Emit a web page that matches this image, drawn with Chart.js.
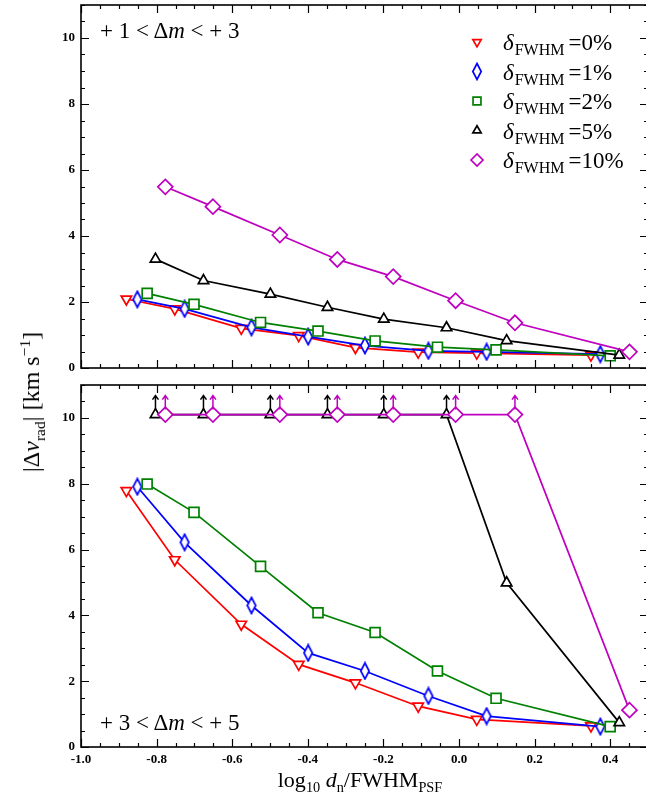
<!DOCTYPE html>
<html>
<head>
<meta charset="utf-8">
<script src="https://cdn.jsdelivr.net/npm/chart.js@4.4.0/dist/chart.umd.min.js"></script>
<style>
  html, body { margin: 0; padding: 0; background: #fff; }
  #wrap { position: relative; width: 646px; height: 798px; overflow: hidden; background: #fff; }
  #wrap canvas { position: absolute; left: 0; }
  .txt { position: absolute; font-family: "Liberation Serif", serif; color: #000; white-space: nowrap; line-height: 1; }
  .txt sub, .txt sup { font-size: 65%; line-height: 0; }
</style>
</head>
<body>
<div id="wrap">
  <canvas id="topPanel" width="650" height="380" style="top:0"></canvas>
  <canvas id="bottomPanel" width="650" height="418" style="top:380px"></canvas>

  <div class="txt" style="left:100px; top:19px; font-size:23px;">+ 1 &lt; Δ<i>m</i> &lt; + 3</div>
  <div class="txt" style="left:100px; top:711px; font-size:23px;">+ 3 &lt; Δ<i>m</i> &lt; + 5</div>
  <div class="txt" style="left:31px; top:402px; font-size:24px; transform: translate(-50%, -50%) rotate(-90deg);">|Δ<i>v</i><sub>rad</sub>| [km s<sup>−1</sup>]</div>
  <div class="txt" style="left:360px; top:780px; font-size:22px; transform: translate(-50%, -50%);">log<sub>10</sub> <i>d</i><sub>n</sub>/FWHM<sub>PSF</sub></div>
</div>

<script>
// axis ticks
const xTickValues = [-1.0, -0.8, -0.6, -0.4, -0.2, 0.0, 0.2, 0.4];
const yTickValues = [0, 2, 4, 6, 8, 10];

// legend
const legendPercents = ["0%", "1%", "2%", "5%", "10%"];

// log10 d_n / FWHM_PSF for each series
const xRed = [-0.880, -0.752, -0.576, -0.424, -0.274, -0.108, 0.047, 0.349];
const xBlue = [-0.851, -0.726, -0.549, -0.399, -0.249, -0.081, 0.073, 0.374];
const xGreen = [-0.825, -0.701, -0.525, -0.373, -0.222, -0.057, 0.098, 0.400];
const xBlack = [-0.803, -0.676, -0.499, -0.348, -0.199, -0.033, 0.126, 0.424];
const xPurple = [-0.777, -0.651, -0.474, -0.322, -0.174, -0.009, 0.148, 0.451];

// top panel: +1 < dm < +3
const topRed = [2.09, 1.79, 1.20, 0.98, 0.62, 0.48, 0.45, 0.39];
const topBlue = [2.08, 1.79, 1.23, 0.95, 0.68, 0.52, 0.49, 0.42];
const topGreen = [2.26, 1.93, 1.38, 1.12, 0.82, 0.63, 0.55, 0.37];
const topBlack = [3.30, 2.65, 2.24, 1.84, 1.48, 1.22, 0.83, 0.39];
const topPurple = [5.49, 4.89, 4.03, 3.29, 2.77, 2.04, 1.37, 0.49];

// bottom panel: +3 < dm < +5
const botRed = [7.79, 5.69, 3.73, 2.51, 1.95, 1.24, 0.84, 0.64];
const botBlue = [7.91, 6.22, 4.30, 2.86, 2.31, 1.55, 0.94, 0.62];
const botGreen = [7.99, 7.13, 5.49, 4.08, 3.48, 2.31, 1.48, 0.62];
const botBlack = [10.1, 10.1, 10.1, 10.1, 10.1, 10.1, 4.99, 0.74];
const botPurple = [10.1, 10.1, 10.1, 10.1, 10.1, 10.1, 10.1, 1.12];

// lower limits (drawn with an up arrow)
const botBlackLimit = [1, 1, 1, 1, 1, 1, 0, 0];
const botPurpleLimit = [1, 1, 1, 1, 1, 1, 1, 0];

// narrow diamond marker for the 1% series
function narrowDiamond(color) {
    const c = document.createElement("canvas");
    c.width = 12;
    c.height = 19;
    const g = c.getContext("2d");
    g.beginPath();
    g.moveTo(6, 1.5);
    g.lineTo(10.2, 9.5);
    g.lineTo(6, 17.5);
    g.lineTo(1.8, 9.5);
    g.closePath();
    g.fillStyle = "#fff";
    g.fill();
    g.strokeStyle = color;
    g.lineWidth = 1.7;
    g.stroke();
    return c;
}

const SERIES = [
    { color: "#ff0000", style: "triangle", radius: 6, rotation: 180, order: 5 },
    { color: "#0000ff", style: narrowDiamond("#0000ff"), radius: 7, rotation: 0, order: 4 },
    { color: "#008000", style: "rect", radius: 7, rotation: 0, order: 3 },
    { color: "#000000", style: "triangle", radius: 6, rotation: 0, order: 2 },
    { color: "#bf00bf", style: "rectRot", radius: 7.5, rotation: 0, order: 1 },
];

const xs = [xRed, xBlue, xGreen, xBlack, xPurple];

function makeDatasets(ys, limits) {
    return ys.map((vals, i) => ({
        label: legendPercents[i],
        data: vals.map((v, j) => ({ x: xs[i][j], y: v })),
        borderColor: SERIES[i].color,
        backgroundColor: "#fff",
        pointBackgroundColor: "#fff",
        pointBorderColor: SERIES[i].color,
        pointStyle: SERIES[i].style,
        pointRadius: SERIES[i].radius,
        pointRotation: SERIES[i].rotation,
        pointBorderWidth: 1.7,
        borderWidth: 1.7,
        order: SERIES[i].order,
        lowerLimit: limits ? limits[i] : null,
    }));
}

const framePlugin = {
    id: "frameTicks",
    afterDraw(chart) {
        const { ctx, chartArea: a, scales } = chart;
        const x = scales.x;
        const y = scales.y;
        ctx.save();
        ctx.strokeStyle = "#000";
        ctx.lineWidth = 1.2;
        ctx.beginPath();
        for (let i = 0; i <= 30; i++) {
            const v = -1 + i * 0.05;
            const px = Math.round(x.getPixelForValue(v)) + 0.5;
            const len = i % 4 === 0 ? 8 : 4;
            ctx.moveTo(px, a.bottom);
            ctx.lineTo(px, a.bottom - len);
            ctx.moveTo(px, a.top);
            ctx.lineTo(px, a.top + len);
        }
        for (let i = 0; i <= 22; i++) {
            const v = i * 0.5;
            const py = Math.round(y.getPixelForValue(v)) + 0.5;
            const len = i % 4 === 0 ? 8 : 4;
            ctx.moveTo(a.left, py);
            ctx.lineTo(a.left + len, py);
            ctx.moveTo(a.right, py);
            ctx.lineTo(a.right - len, py);
        }
        ctx.stroke();
        ctx.lineWidth = 1.6;
        ctx.strokeRect(a.left, a.top, a.right - a.left, a.bottom - a.top);
        ctx.restore();
    },
};

const limitPlugin = {
    id: "lowerLimits",
    afterDatasetsDraw(chart) {
        const ctx = chart.ctx;
        ctx.save();
        ctx.lineWidth = 1.5;
        chart.data.datasets.forEach((ds, di) => {
            if (!ds.lowerLimit) return;
            ctx.strokeStyle = ds.borderColor;
            chart.getDatasetMeta(di).data.forEach((pt, i) => {
                if (!ds.lowerLimit[i]) return;
                const tip = pt.y - 19;
                ctx.beginPath();
                ctx.moveTo(pt.x, pt.y - 5);
                ctx.lineTo(pt.x, tip);
                ctx.moveTo(pt.x - 3, tip + 4);
                ctx.lineTo(pt.x, tip);
                ctx.lineTo(pt.x + 3, tip + 4);
                ctx.stroke();
            });
        });
        ctx.restore();
    },
};

const legendPlugin = {
    id: "fwhmLegend",
    afterDraw(chart) {
        const ctx = chart.ctx;
        const markerX = 477;
        const textX = 503;
        ctx.save();
        legendPercents.forEach((p, i) => {
            const s = SERIES[i];
            const y = 42 + i * 29.5;
            ctx.strokeStyle = s.color;
            ctx.fillStyle = "#fff";
            ctx.lineWidth = 1.7;
            Chart.helpers.drawPoint(ctx, {
                pointStyle: s.style,
                radius: s.radius * 0.8,
                rotation: s.rotation,
                borderWidth: 1.7,
            }, markerX, y);

            ctx.fillStyle = "#000";
            ctx.textBaseline = "alphabetic";
            ctx.font = 'italic 23px "Liberation Serif"';
            ctx.fillText("δ", textX, y + 8);
            let cx = textX + ctx.measureText("δ").width + 1;
            ctx.font = '16px "Liberation Serif"';
            ctx.fillText("FWHM", cx, y + 13);
            cx += ctx.measureText("FWHM").width + 4;
            ctx.font = '23px "Liberation Serif"';
            ctx.fillText("=" + p, cx, y + 8);
        });
        ctx.restore();
    },
};

function panelOptions(showX) {
    return {
        responsive: false,
        animation: false,
        events: [],
        layout: {
            autoPadding: false,
            padding: showX
                ? { top: 5, right: 2, bottom: 0, left: 0 }
                : { top: 5, right: 2, bottom: 12, left: 0 },
        },
        plugins: {
            legend: { display: false },
            tooltip: { enabled: false },
        },
        scales: {
            x: {
                type: "linear",
                min: -1,
                max: 0.5,
                display: showX,
                grid: { display: false, drawTicks: false },
                border: { display: false },
                afterBuildTicks: (scale) => {
                    scale.ticks = xTickValues.map((v) => ({ value: v }));
                },
                afterFit: (scale) => {
                    scale.height = showX ? 51 : 0;
                    scale.paddingLeft = 0;
                    scale.paddingRight = 0;
                },
                ticks: {
                    padding: 5,
                    maxRotation: 0,
                    autoSkip: false,
                    color: "#000",
                    font: { family: "Liberation Serif", weight: "bold", size: 13 },
                    callback: (v) => v.toFixed(1),
                },
            },
            y: {
                type: "linear",
                min: 0,
                max: 11,
                grid: { display: false, drawTicks: false },
                border: { display: false },
                afterBuildTicks: (scale) => {
                    scale.ticks = yTickValues.map((v) => ({ value: v }));
                },
                afterFit: (scale) => {
                    scale.width = 81;
                    scale.paddingTop = 0;
                    scale.paddingBottom = 0;
                },
                ticks: {
                    padding: 6,
                    color: "#000",
                    font: { family: "Liberation Serif", weight: "bold", size: 13 },
                    callback: (v) => String(v),
                },
            },
        },
    };
}

new Chart(document.getElementById("topPanel"), {
    type: "line",
    data: {
        datasets: makeDatasets([topRed, topBlue, topGreen, topBlack, topPurple]),
    },
    options: panelOptions(false),
    plugins: [framePlugin, legendPlugin],
});

new Chart(document.getElementById("bottomPanel"), {
    type: "line",
    data: {
        datasets: makeDatasets(
            [botRed, botBlue, botGreen, botBlack, botPurple],
            [null, null, null, botBlackLimit, botPurpleLimit]
        ),
    },
    options: panelOptions(true),
    plugins: [framePlugin, limitPlugin],
});
</script>
</body>
</html>
